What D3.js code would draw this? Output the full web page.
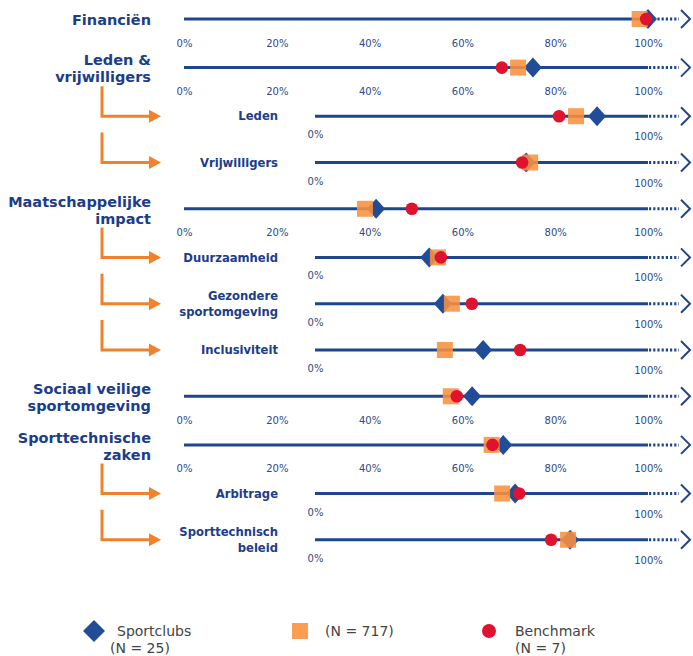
<!DOCTYPE html>
<html><head><meta charset="utf-8">
<script src="https://cdn.jsdelivr.net/npm/d3@7"></script>
<style>body{margin:0;background:#fff}svg{display:block}</style>
</head><body>
<script>
const categories = ["Financiën","Leden &\nvrijwilligers","Leden","Vrijwilligers","Maatschappelijke\nimpact","Duurzaamheid","Gezondere\nsportomgeving","Inclusiviteit","Sociaal veilige\nsportomgeving","Sporttechnische\nzaken","Arbitrage","Sporttechnisch\nbeleid"];
const levels = [0,0,1,1,0,1,1,1,0,0,1,1];
const sportclubs = [100,75.2,84.7,63.4,41.4,34.3,38.4,50.5,62.1,68.8,60.1,76.6];
const n717 = [98.2,72.0,78.4,64.6,39.0,36.9,41.1,39.0,57.5,66.3,56.2,76.0];
const benchmark = [99.6,68.5,73.3,62.2,49.1,37.8,47.1,61.6,58.8,66.5,61.3,70.9];
const mainTicks = [0,20,40,60,80,100];
const subTicks = [0,100];
const legendLabels = ["Sportclubs\n(N = 25)","(N = 717)","Benchmark\n(N = 7)"];

const W=693,H=656;
const C={navy:"#1e4690",label:"#1b3d8a",tick:"#2d4a8a",diamond:"#214c98",square:"#f9913f",circle:"#e0132e",orange:"#f0822e"};
const svg=d3.select("body").append("svg").attr("width",W).attr("height",H);

const xMain=d3.scaleLinear().domain([0,100]).range([184,648]);
const xSub=d3.scaleLinear().domain([0,100]).range([315,648]);
// row layout: rows following a main row (which carries a full tick row) get a little more room
const rowY=[];
categories.forEach((c,i)=>{ rowY.push(i===0?19:rowY[i-1]+(levels[i-1]===0?48.6:46.3)); });
const y=d3.scaleOrdinal().domain(categories).range(rowY);

categories.forEach((cat,i)=>{
  const lv=levels[i], x=lv?xSub:xMain, yy=y(cat);
  const g=svg.append("g");
  g.append("line").attr("x1",x(0)).attr("x2",x(100)).attr("y1",yy).attr("y2",yy)
    .attr("stroke",C.navy).attr("stroke-width",3);
  g.append("line").attr("x1",x(100)+1).attr("x2",x(100)+31).attr("y1",yy).attr("y2",yy)
    .attr("stroke",C.navy).attr("stroke-width",3).attr("stroke-dasharray","2.2,2");
  g.append("path").attr("d",`M${x(100)+33},${yy-9}L${x(100)+42},${yy}L${x(100)+33},${yy+9}`)
    .attr("fill","none").attr("stroke",C.navy).attr("stroke-width",2);
  const ax=d3.axisBottom(x).tickValues(lv?subTicks:mainTicks).tickSize(0)
     .tickPadding(lv?15:20.5).tickFormat(d=>d+"%");
  const ag=g.append("g").attr("transform",`translate(0,${yy})`).call(ax);
  ag.select(".domain").remove();
  ag.selectAll("text").attr("font-family","DejaVu Sans").attr("font-size",10).attr("fill",C.tick);
  if(lv) ag.selectAll("text").filter(d=>d===100).attr("dy","0.9em");
  const lines=cat.split("\n");
  const fs=lv?11.6:14.5, lh=lv?16.5:17;
  const t=g.append("text").attr("x",lv?278:151).attr("text-anchor","end")
    .attr("font-family","DejaVu Sans").attr("font-weight","bold").attr("font-size",fs).attr("fill",C.label);
  lines.forEach((l,k)=>{
    t.append("tspan").attr("x",lv?278:151)
     .attr("y",yy+(k-(lines.length-1)/2)*lh+(lv?0:1)).attr("dy","0.36em").text(l);
  });
  if(lv){
    g.append("path").attr("d",`M102,${yy-30}V${yy}H151`).attr("fill","none")
      .attr("stroke",C.orange).attr("stroke-width",3);
    g.append("path").attr("d",`M149,${yy-6.5}L161,${yy}L149,${yy+6.5}Z`).attr("fill",C.orange);
  }
  g.append("path").attr("d","M0,-10L9,0L0,10L-9,0Z").attr("fill",C.diamond)
    .attr("transform",`translate(${x(sportclubs[i])},${yy})`);
  g.append("rect").attr("x",x(n717[i])-8).attr("y",yy-8).attr("width",16).attr("height",16)
    .attr("fill",C.square).attr("fill-opacity",0.88);
  g.append("circle").attr("cx",x(benchmark[i])).attr("cy",yy).attr("r",6.3).attr("fill",C.circle);
});

const lg=svg.append("g").attr("font-family","DejaVu Sans").attr("font-size",14).attr("fill","#444");
const lx=[94,300,489], ly=631;
lg.append("path").attr("d","M0,-11L11,0L0,11L-11,0Z").attr("fill",C.diamond).attr("transform",`translate(${lx[0]},${ly})`);
lg.append("rect").attr("x",lx[1]-8).attr("y",ly-8).attr("width",16).attr("height",16).attr("fill",C.square).attr("fill-opacity",0.88);
lg.append("circle").attr("cx",lx[2]).attr("cy",ly).attr("r",7).attr("fill",C.circle);
const textX=[[117,110],[325],[515,515]];
legendLabels.forEach((lab,i)=>{
  lab.split("\n").forEach((l,k)=>{
    lg.append("text").attr("x",textX[i][k]).attr("y",ly+k*17).attr("dy","0.36em").text(l);
  });
});
</script>
</body></html>
